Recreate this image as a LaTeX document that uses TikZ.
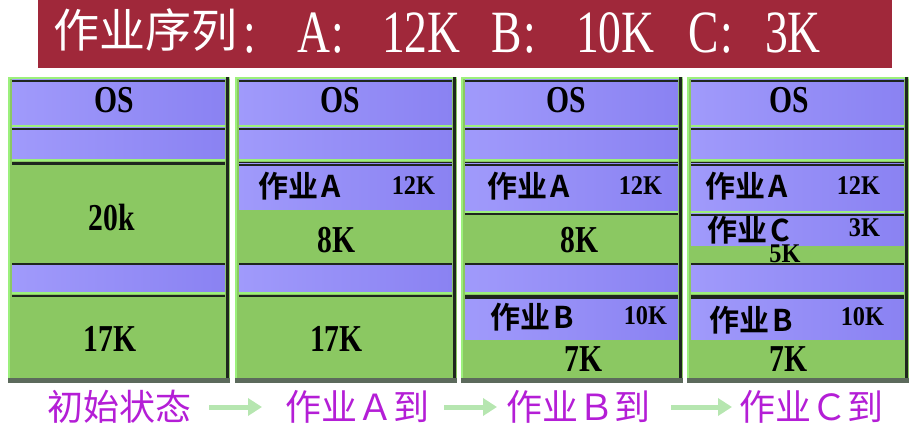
\documentclass[tikz,border=0pt]{standalone}
\usepackage{fontspec}
\usepackage{graphicx}
\setmainfont{Liberation Serif}
\newfontfamily\cjk{Noto Sans CJK SC}[BoldFont={Noto Sans CJK SC Bold}]
\usetikzlibrary{arrows.meta}
\definecolor{titlered}{HTML}{A0283A}
\definecolor{memgreen}{HTML}{8BC862}
\definecolor{mempurpleL}{HTML}{A09AFB}
\definecolor{mempurpleR}{HTML}{8A82F2}
\definecolor{lgreen}{HTML}{9CF07C}
\definecolor{darkedge}{HTML}{1E261E}
\definecolor{grayedge}{HTML}{5C6A5C}
\definecolor{labmag}{HTML}{B41ED6}
\definecolor{arrgreen}{HTML}{B6E6B0}
\newcommand\bigtxt[1]{\fontsize{38pt}{40pt}\selectfont\bfseries\scalebox{0.78}[1]{#1}}
\newcommand\smalltxt[1]{\fontsize{27pt}{29pt}\selectfont\bfseries\scalebox{0.9}[1]{#1}}
\newcommand\jobtxt[1]{{\cjk\bfseries\fontsize{30pt}{32pt}\selectfont 作业\hspace{3pt}#1}}
\newcommand\titlelat[1]{\fontsize{48pt}{50pt}\selectfont\scalebox{0.95}[1.25]{#1}}
\newcommand\baredges[1]{%
  \draw[darkedge, line width=2pt] ([yshift=-1pt]#1.north west) -- ([yshift=-1pt]#1.north east);
  \draw[lgreen, line width=2pt] ([yshift=-1pt]#1.south west) -- ([yshift=-1pt]#1.south east);}
\begin{document}
\begin{tikzpicture}[x=1pt,y=-1pt,
  every node/.style={inner sep=0pt, outer sep=0pt},
  colbg/.style={fill=memgreen, minimum width=222pt, minimum height=306pt, anchor=north west},
  bar/.style={left color=mempurpleL, right color=mempurpleR, minimum width=213pt, anchor=north west},
  ttl/.style={text=white, anchor=base west},
  lab/.style={text=labmag, font=\cjk\fontsize{36pt}{38pt}\selectfont},
  flow/.style={arrgreen, line width=5pt, -{Triangle[length=14pt,width=17pt]}}]
\useasboundingbox (0,0) rectangle (917,430);
% title banner
\node[fill=titlered, minimum width=854pt, minimum height=68pt, anchor=north west] (banner) at (38,0) {};
\node[ttl, font=\cjk\fontsize{46pt}{48pt}\selectfont] (t0) at (53,48) {作业序列};
\node[ttl] (t1) at (243,53) {\titlelat{:}};
\node[ttl] (t2) at (297,53) {\titlelat{A\kern2pt:}};
\node[ttl] (t3) at (382,53) {\titlelat{12K}};
\node[ttl] (t4) at (491,53) {\titlelat{B\kern2pt:}};
\node[ttl] (t5) at (576,53) {\titlelat{10K}};
\node[ttl] (t6) at (688,53) {\titlelat{C\kern2pt:}};
\node[ttl] (t7) at (765,53) {\titlelat{3K}};
% columns
\foreach \i/\X in {1/8,2/235,3/461,4/687}{
  \node[colbg] (col\i) at (\X,77) {};
  \draw[lgreen, line width=2pt] ([xshift=1pt]col\i.south west) -- ([xshift=1pt,yshift=-1pt]col\i.north west) -- ([yshift=-1pt]col\i.north east);
  \fill[grayedge] (col\i.south west) rectangle ([yshift=5pt]col\i.south east);
  \fill[darkedge] ([xshift=-4pt]col\i.north east) rectangle ([xshift=-1pt,yshift=5pt]col\i.south east);
  \node[bar, minimum height=45pt] (os\i) at (\X+4,80) {};
  \node[bar, minimum height=31pt] (bb\i) at (\X+4,128) {};
  \node[bar, minimum height=29pt] (bc\i) at (\X+4,263) {};
  \baredges{os\i}
  \baredges{bb\i}
  \baredges{bc\i}
  \draw[darkedge, line width=3pt] ([yshift=-4.5pt]bb\i.south west) -- ([yshift=-4.5pt]bb\i.south east);
  \draw[darkedge, line width=2.5pt] ([yshift=-4pt]bc\i.south west) -- ([yshift=-4pt]bc\i.south east);
}
% job bars
\node[bar, minimum height=46pt] (ja2) at (239,164) {};
\draw[darkedge, line width=2pt] ([yshift=-1pt]ja2.north west) -- ([yshift=-1pt]ja2.north east);
\node[bar, minimum height=47pt] (ja3) at (465,164) {};
\baredges{ja3}
\draw[darkedge, line width=1.5pt] ([yshift=-3pt]ja3.south west) -- ([yshift=-3pt]ja3.south east);
\node[bar, minimum height=42pt] (jb3) at (465,297) {};
\draw[darkedge, line width=2pt] ([yshift=-1pt]jb3.north west) -- ([yshift=-1pt]jb3.north east);
\node[bar, minimum height=47pt] (ja4) at (691,164) {};
\baredges{ja4}
\node[bar, minimum height=31pt] (jc4) at (691,214) {};
\draw[darkedge, line width=2pt] ([yshift=-1pt]jc4.north west) -- ([yshift=-1pt]jc4.north east);
\node[bar, minimum height=42pt] (jb4) at (691,297) {};
\draw[darkedge, line width=2pt] ([yshift=-1pt]jb4.north west) -- ([yshift=-1pt]jb4.north east);
% texts column 1
\node (os1t) at (114,100) {\bigtxt{OS}};
\node (t20k) at (111.5,217.5) {\bigtxt{20k}};
\node (t17a) at (110,338.5) {\bigtxt{17K}};
% column 2
\node (os2t) at (340,100) {\bigtxt{OS}};
\node[anchor=west] (ja2a) at (258,186.5) {\jobtxt{A}};
\node[anchor=east] (ja2n) at (435,186) {\smalltxt{12K}};
\node (t8a) at (336.5,240.5) {\bigtxt{8K}};
\node (t17b) at (336.5,338.5) {\bigtxt{17K}};
% column 3
\node (os3t) at (566,100) {\bigtxt{OS}};
\node[anchor=west] (ja3a) at (487,186.5) {\jobtxt{A}};
\node[anchor=east] (ja3n) at (662,186) {\smalltxt{12K}};
\node (t8b) at (579.5,240.5) {\bigtxt{8K}};
\node[anchor=west] (jb3a) at (490,317.5) {\jobtxt{B}};
\node[anchor=east] (jb3n) at (667,316) {\smalltxt{10K}};
\node (t7a) at (583.5,359.5) {\bigtxt{7K}};
% column 4
\node (os4t) at (789.5,100) {\bigtxt{OS}};
\node[anchor=west] (ja4a) at (705,186.5) {\jobtxt{A}};
\node[anchor=east] (ja4n) at (880,186) {\smalltxt{12K}};
\node[anchor=west] (jc4a) at (707,230) {\jobtxt{C}};
\node[anchor=east] (jc4n) at (880,227.5) {\smalltxt{3K}};
\node (t5k) at (785,254) {\smalltxt{5K}};
\node[anchor=west] (jb4a) at (709,320) {\jobtxt{B}};
\node[anchor=east] (jb4n) at (884,316.5) {\smalltxt{10K}};
\node (t7b) at (788.5,359.5) {\bigtxt{7K}};
% bottom labels
\node[lab] (lab0) at (119,407) {初始状态};
\node[lab] (lab1) at (357,407) {作业Ａ到};
\node[lab] (lab2) at (578,407) {作业Ｂ到};
\node[lab] (lab3) at (811,407) {作业Ｃ到};
\draw[flow, shorten <=18pt, shorten >=23pt] (lab0.east) -- (lab1.west);
\draw[flow, shorten <=15pt, shorten >=9pt] (lab1.east) -- (lab2.west);
\draw[flow, shorten <=21pt, shorten >=7pt] (lab2.east) -- (lab3.west);
\end{tikzpicture}
\end{document}
